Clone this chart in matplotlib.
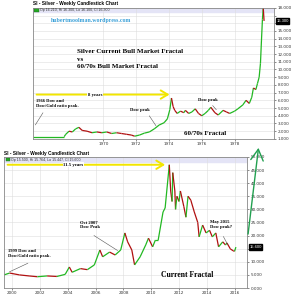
import matplotlib.pyplot as plt
from matplotlib.patches import Rectangle

# 60/70s silver (top panel)
years_70s = [1965.7, 1967.6, 1967.7, 1967.9, 1968.1, 1968.3, 1968.5, 1968.7, 1969.0, 1969.3,
             1969.6, 1969.9, 1970.2, 1970.5, 1970.8, 1971.1, 1971.4, 1971.7, 1971.9, 1972.2,
             1972.5, 1972.8, 1973.1, 1973.4, 1973.7, 1973.9, 1974.05, 1974.15, 1974.25, 1974.35,
             1974.5, 1974.7, 1974.9, 1975.0, 1975.2, 1975.4, 1975.6, 1975.8, 1976.0, 1976.2,
             1976.4, 1976.55, 1976.8, 1977.0, 1977.3, 1977.5, 1977.7, 1978.0, 1978.2, 1978.5,
             1978.7, 1978.9, 1979.05, 1979.15, 1979.3, 1979.4, 1979.5, 1979.58, 1979.64, 1979.7,
             1979.75, 1979.8]
price_70s = [1.29, 1.29, 1.6, 2.0, 1.9, 2.3, 2.5, 2.1, 2.0, 1.8,
             1.9, 1.8, 1.9, 1.7, 1.8, 1.7, 1.6, 1.5, 1.35, 1.5,
             1.75, 1.9, 2.3, 2.8, 3.1, 3.6, 4.8, 6.3, 5.2, 4.7,
             4.3, 4.6, 4.4, 4.7, 4.3, 4.5, 4.9, 4.3, 4.0, 4.3,
             4.7, 5.1, 4.4, 4.1, 4.7, 4.5, 4.3, 4.6, 4.9, 5.4,
             6.0, 5.6, 6.4, 7.6, 7.4, 8.2, 9.0, 10.8, 13.7, 16.5,
             18.0, 16.3]

# current silver (bottom panel)
years_now = [1999.4, 1999.8, 2000.5, 2001.2, 2001.8, 2002.5, 2003.2, 2003.8, 2004.1, 2004.3,
             2004.9, 2005.4, 2005.9, 2006.3, 2006.5, 2007.0, 2007.4, 2007.8, 2008.1, 2008.3,
             2008.6, 2008.8, 2009.2, 2009.6, 2009.8, 2010.1, 2010.3, 2010.5, 2010.85, 2011.0,
             2011.3, 2011.4, 2011.5, 2011.55, 2011.7, 2011.75, 2011.85, 2012.0, 2012.1, 2012.35,
             2012.5, 2012.65, 2012.85, 2013.1, 2013.35, 2013.45, 2013.7, 2013.95, 2014.2, 2014.4,
             2014.65, 2014.85, 2015.15, 2015.35, 2015.45, 2015.7, 2015.9, 2016.0, 2016.1]
price_now = [5.0, 5.7, 5.0, 4.6, 4.3, 4.6, 4.4, 5.2, 8.0, 6.0,
             7.4, 7.0, 8.8, 14.5, 11.9, 13.7, 12.6, 14.5, 21.0, 17.6,
             14.5, 8.8, 11.9, 16.4, 19.0, 15.7, 18.3, 18.3, 29.0, 30.5,
             47.0, 37.0, 33.0, 44.0, 37.0, 30.0, 35.0, 33.0, 37.0, 31.0,
             27.0, 35.0, 33.5, 29.0, 25.0, 19.5, 24.0, 21.0, 22.0, 19.5,
             21.0, 15.7, 17.6, 16.4, 17.2, 14.9, 14.2, 14.0, 15.6]

top_ticks = list(range(1, 19))
bot_ticks = list(range(0, 51, 5))
top_years = [1970, 1972, 1974, 1976, 1978]
bot_years = [2000, 2002, 2004, 2006, 2008, 2010, 2012, 2014, 2016]
last_top = 16.3
last_bot = 15.6

UP = '#22b822'
DOWN = '#b01010'
YELLOW = '#f2e600'
serif = 'Liberation Serif'
sans = 'Liberation Sans'

fig = plt.figure(figsize=(2.92, 3.0), dpi=100)
ax1 = fig.add_axes([0.113, 0.537, 0.825, 0.437])
ax2 = fig.add_axes([0.014, 0.04, 0.832, 0.437])


def candles(ax, xs, ys):
    for i in range(1, len(xs)):
        c = UP if ys[i] >= ys[i - 1] else DOWN
        ax.plot(xs[i - 1:i + 1], ys[i - 1:i + 1], color=c, lw=0.9, solid_capstyle='butt')


def style(ax, ticks, years, ylim, xlim, band, last):
    ax.set_xlim(*xlim)
    ax.set_ylim(*ylim)
    ax.set_yticks(ticks)
    # the label under the last-price box is hidden
    ax.set_yticklabels(['' if abs(t - last) < 0.7 * (ticks[1] - ticks[0]) else '%.3f' % t
                        for t in ticks])
    ax.set_xticks(years)
    ax.set_xticklabels([str(y) for y in years])
    ax.yaxis.tick_right()
    ax.tick_params(labelsize=3, length=1.5, width=0.4, pad=1, colors='#333333')
    ax.grid(True, color='#dddddd', lw=0.4)
    ax.set_axisbelow(True)
    for s in ax.spines.values():
        s.set_color('#888888')
        s.set_linewidth(0.6)
    ax.axhspan(band, ylim[1], color='#e4e4f6', zorder=0)
    ax.text(1.01, last, '%.3f' % last, transform=ax.get_yaxis_transform(), fontsize=3,
            family=sans, color='white', va='center', ha='left',
            bbox=dict(boxstyle='square,pad=0.15', fc='black', ec='black'))


style(ax1, top_ticks, top_years, (1, 18), (1965.7, 1980.4), 17.4, last_top)
style(ax2, bot_ticks, bot_years, (0, 50), (1999.4, 2016.9), 48.2, last_bot)

candles(ax1, years_70s, price_70s)
candles(ax2, years_now, price_now)

fig.text(33 / 292, 1 - 4 / 300, 'SI - Silver - Weekly Candlestick Chart', fontsize=3.4,
         fontweight='bold', family=sans, va='center')
fig.text(4 / 292, 1 - 153 / 300, 'SI - Silver - Weekly Candlestick Chart', fontsize=3.4,
         fontweight='bold', family=sans, va='center')

for ax, txt in [(ax1, 'Op 16.210, Hi 16.300, Lo 16.100, Cl 16.300'),
                (ax2, 'Op 15.500, Hi 15.764, Lo 15.447, Cl 15.600')]:
    ax.add_patch(Rectangle((0.006, 0.965), 0.018, 0.03, transform=ax.transAxes,
                           facecolor='#22aa22', edgecolor='#226622', lw=0.3))
    ax.text(0.03, 0.98, txt, transform=ax.transAxes, fontsize=2.6, family=sans,
            va='center', color='#333333')

# top panel texts
ax1.text(1966.8, 16.3, 'hubertmoolman.wordpress.com', fontsize=4.2, family=serif,
         fontweight='bold', color='#3aa0d8', va='center')
for y, t in [(12.3, 'Silver Current Bull Market Fractal'), (11.25, 'vs'),
             (10.35, '60/70s Bull Market Fractal')]:
    ax1.text(1968.4, y, t, fontsize=5.0, family=serif, fontweight='bold', va='center')
ax1.annotate('', xy=(1974.2, 6.75), xytext=(1965.75, 6.75),
             arrowprops=dict(arrowstyle='->,head_length=0.5,head_width=0.3', color=YELLOW, lw=1.4))
ax1.text(1969.5, 6.75, '8 years', fontsize=3.4, family=serif, fontweight='bold',
         ha='center', va='center', bbox=dict(fc='white', ec='none', pad=0.5))
ax1.text(1965.9, 5.6, '1966 Dow and\nDow/Gold ratio peak.', fontsize=3.3, family=serif,
         fontweight='bold', va='center', linespacing=1.1)
ax1.annotate('', xy=(1965.75, 2.5), xytext=(1966.4, 4.7),
             arrowprops=dict(arrowstyle='-', color='#555555', lw=0.4))
ax1.text(1972.25, 4.7, 'Dow peak', fontsize=3.3, family=serif, fontweight='bold',
         ha='center', va='center')
ax1.annotate('', xy=(1973.3, 2.4), xytext=(1972.7, 4.3),
             arrowprops=dict(arrowstyle='-', color='#555555', lw=0.4))
ax1.text(1976.4, 6.0, 'Dow peak', fontsize=3.3, family=serif, fontweight='bold',
         ha='center', va='center')
ax1.annotate('', xy=(1977.0, 4.5), xytext=(1976.55, 5.6),
             arrowprops=dict(arrowstyle='-', color='#555555', lw=0.4))
ax1.text(1976.2, 1.7, '60/70s Fractal', fontsize=5, family=serif, fontweight='bold',
         ha='center', va='center')

# bottom panel texts
ax2.annotate('', xy=(2011.2, 47), xytext=(1999.45, 47),
             arrowprops=dict(arrowstyle='->,head_length=0.5,head_width=0.3', color=YELLOW, lw=1.4))
ax2.text(2004.4, 47, '11.5 years', fontsize=3.4, family=serif, fontweight='bold',
         ha='center', va='center', bbox=dict(fc='white', ec='none', pad=0.5))
ax2.text(1999.7, 13.2, '1999 Dow and\nDow/Gold ratio peak.', fontsize=3.3, family=serif,
         fontweight='bold', va='center', linespacing=1.1)
ax2.annotate('', xy=(1999.6, 5.7), xytext=(2001.3, 9.9),
             arrowprops=dict(arrowstyle='-', color='#555555', lw=0.4))
ax2.text(2004.9, 24.0, 'Oct 2007\nDow Peak', fontsize=3.3, family=serif, fontweight='bold',
         va='center', linespacing=1.1)
ax2.annotate('', xy=(2007.75, 13.7), xytext=(2005.7, 20.6),
             arrowprops=dict(arrowstyle='-', color='#555555', lw=0.4))
ax2.text(2014.2, 24.2, 'May 2015\nDow peak?', fontsize=3.3, family=serif, fontweight='bold',
         va='center', linespacing=1.1)
ax2.annotate('', xy=(2015.6, 15.6), xytext=(2015.1, 20.6),
             arrowprops=dict(arrowstyle='-', color='#555555', lw=0.4))
ax2.text(2012.6, 5.0, 'Current Fractal', fontsize=5.5, family=serif, fontweight='bold',
         ha='center', va='center')
ax2.annotate('', xy=(2017.75, 54.5), xytext=(2016.95, 19.5), annotation_clip=False,
             arrowprops=dict(arrowstyle='->,head_length=0.8,head_width=0.45', color='#22a050', lw=1.0))

fig.savefig('out.png', dpi=100)
